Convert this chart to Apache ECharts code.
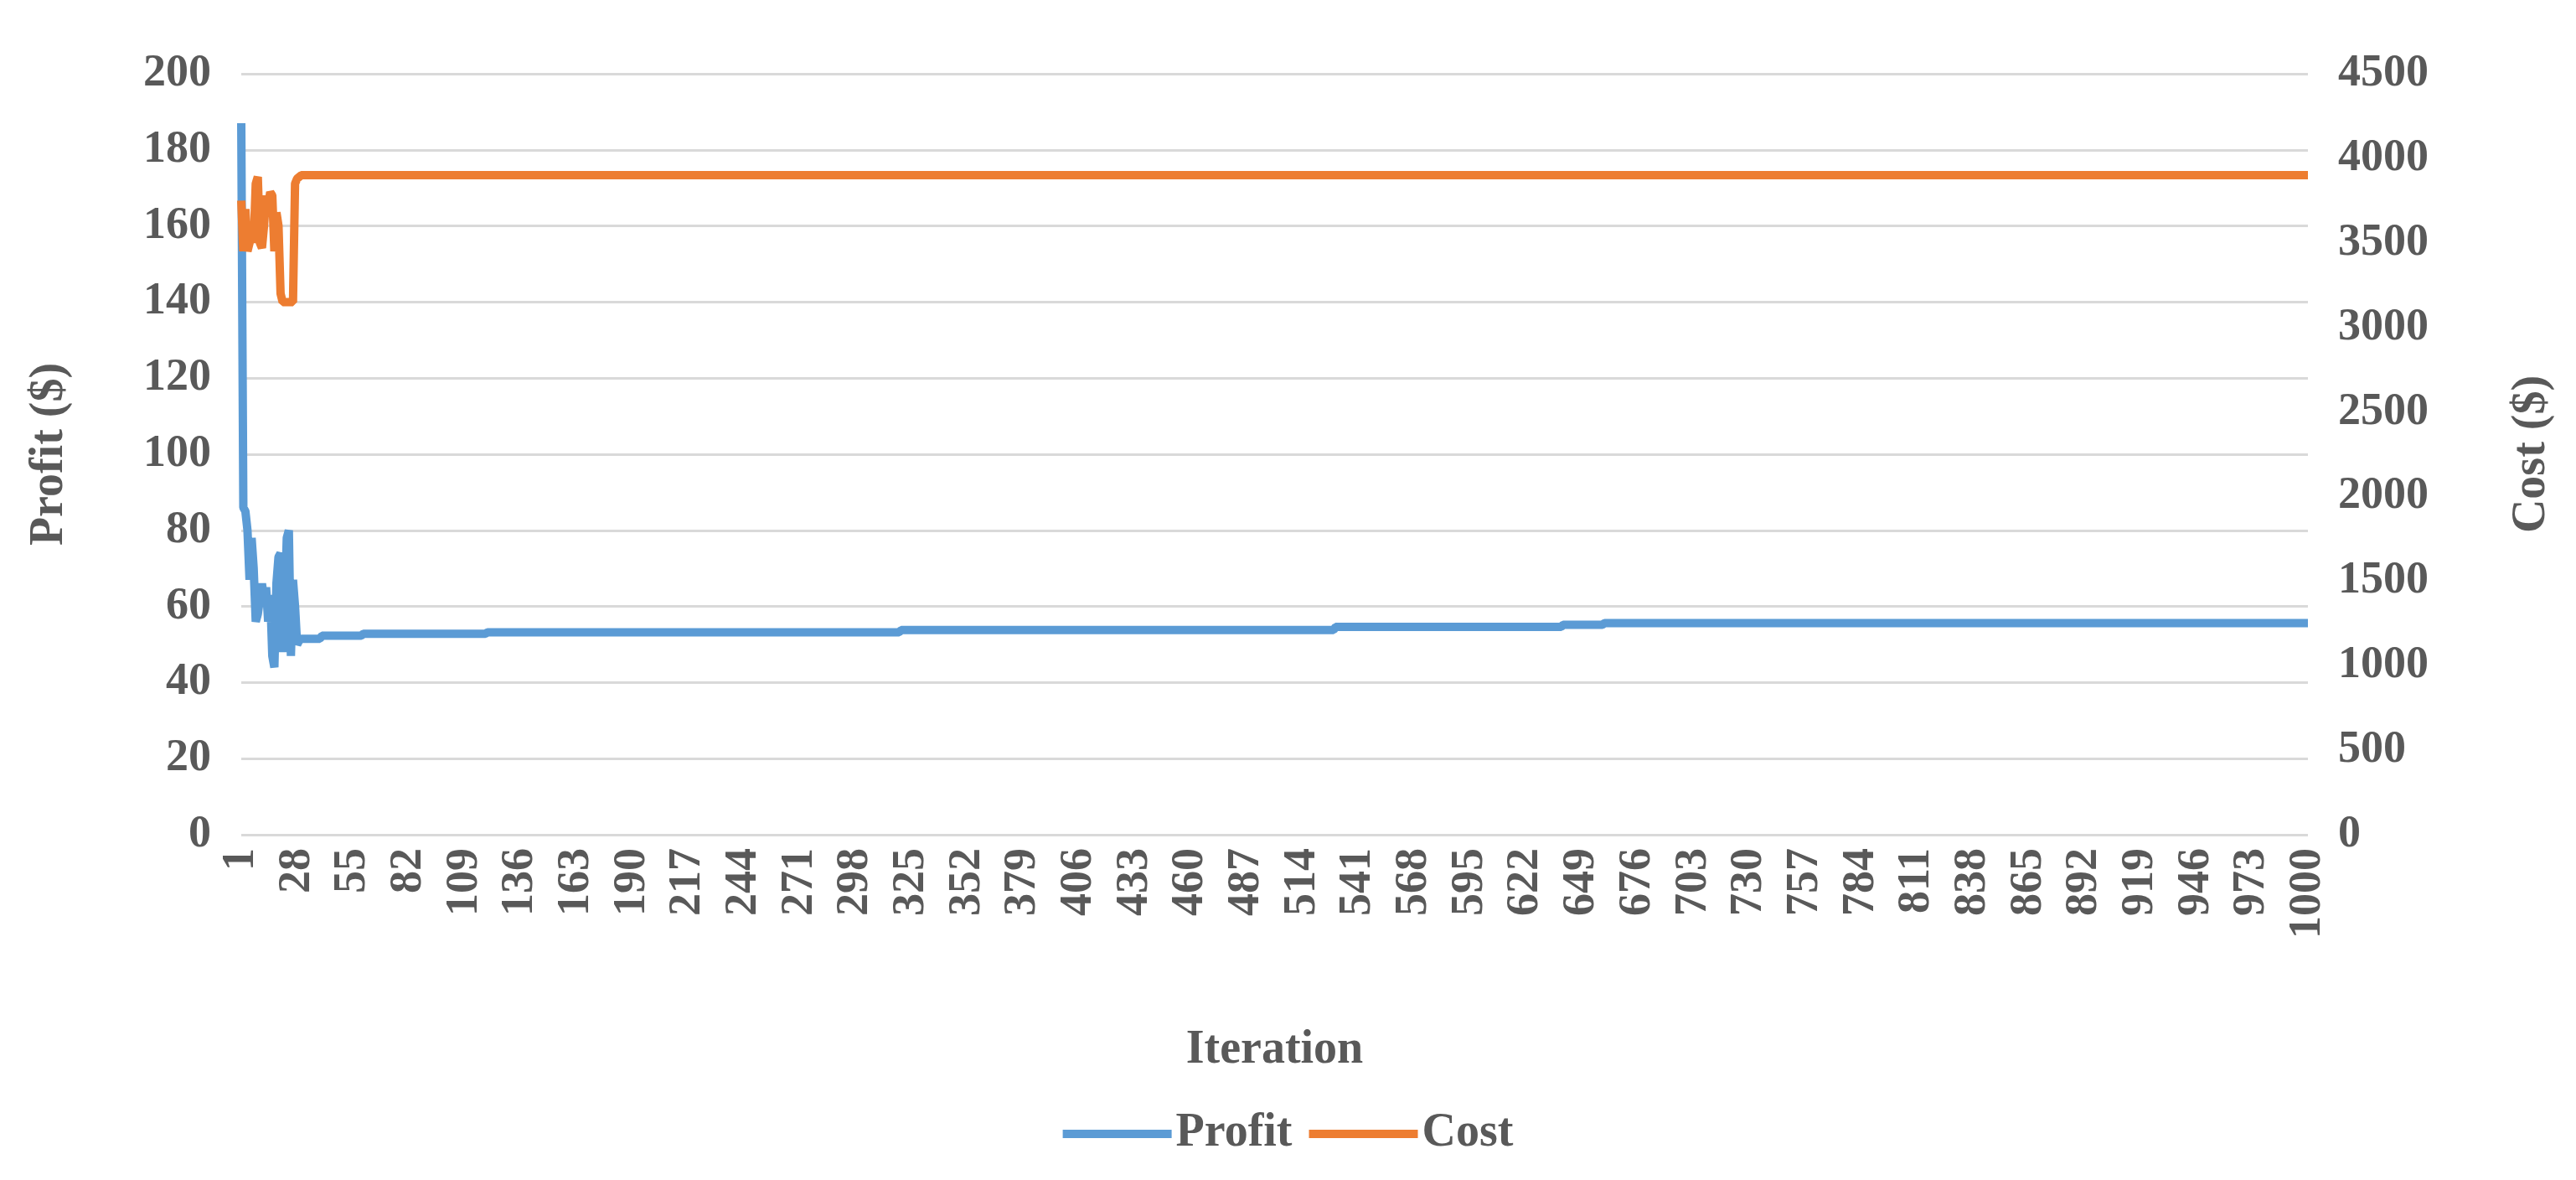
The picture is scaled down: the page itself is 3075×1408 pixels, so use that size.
<!DOCTYPE html>
<html><head><meta charset="utf-8">
<script src="https://cdn.jsdelivr.net/npm/echarts@6/dist/echarts.min.js"></script>
<style>html,body{margin:0;background:#fff}#c{width:3075px;height:1408px}</style>
</head><body><div id="c"></div>
<script>
// Iterations 1..1000
const iterations = [];
for (let i = 1; i <= 1000; i++) iterations.push(String(i));
// Early profit values (iterations 1..29)
const profitEarly = [187,86,85,80,67,78,70,56,58,62,66,62,65,56,63,47,44,66,73,74,48,60,78,80,47,67,60,50,51];
// Later profit as runs: [value, count]
const profitRuns = [[51.5,10],[52.3,20],[52.8,60],[53.2,200],[53.8,210],[54.6,110],[55.2,20],[55.6,341]];
// Early cost values (iterations 1..29)
const costEarly = [3750,3450,3700,3450,3500,3600,3500,3850,3890,3500,3470,3600,3780,3720,3800,3780,3450,3680,3600,3200,3150,3150,3150,3150,3150,3150,3850,3880,3890];
const costRuns = [[3900,971]];

function expand(early, runs){const a=early.slice();runs.forEach(([v,n])=>{for(let k=0;k<n;k++)a.push(v);});return a.slice(0,1000);}
const profit = expand(profitEarly, profitRuns);
const cost = expand(costEarly, costRuns);

const font = 'Liberation Serif';
const gray = '#595959';
const lbl = {fontFamily:font,fontWeight:'bold',fontSize:54,color:gray};
const chart = echarts.init(document.getElementById('c'));
chart.setOption({
  animation:false,
  grid:{left:288,right:320,top:88,bottom:412},
  legend:{bottom:22,left:'center',itemWidth:130,itemHeight:10,itemGap:20,
    textStyle:{fontFamily:font,fontWeight:'bold',fontSize:56,color:gray},
    data:[{name:'Profit',icon:'rect'},{name:'Cost',icon:'rect'}]},
  xAxis:{type:'category',data:iterations,boundaryGap:false,
    name:'Iteration',nameLocation:'middle',nameGap:230,
    nameTextStyle:{fontFamily:font,fontWeight:'bold',fontSize:56,color:gray},
    axisLine:{show:false},axisTick:{show:false},
    axisLabel:Object.assign({interval:26,rotate:90,margin:16},lbl)},
  yAxis:[
    {type:'value',min:0,max:200,interval:20,name:'Profit ($)',nameLocation:'middle',nameGap:200,
     nameTextStyle:{fontFamily:font,fontWeight:'bold',fontSize:56,color:gray},
     axisLabel:Object.assign({margin:36},lbl),
     splitLine:{lineStyle:{color:'#d9d9d9',width:3}}},
    {type:'value',min:0,max:4500,interval:500,name:'Cost ($)',nameLocation:'middle',nameGap:240,nameRotate:90,
     nameTextStyle:{fontFamily:font,fontWeight:'bold',fontSize:56,color:gray},
     axisLabel:Object.assign({margin:36,formatter:v=>String(v)},lbl),
     splitLine:{show:false}}
  ],
  series:[
    {name:'Profit',type:'line',data:profit,yAxisIndex:0,showSymbol:false,lineStyle:{color:'#5B9BD5',width:10},itemStyle:{color:'#5B9BD5'}},
    {name:'Cost',type:'line',data:cost,yAxisIndex:1,showSymbol:false,lineStyle:{color:'#ED7D31',width:10},itemStyle:{color:'#ED7D31'}}
  ]
});
</script></body></html>
